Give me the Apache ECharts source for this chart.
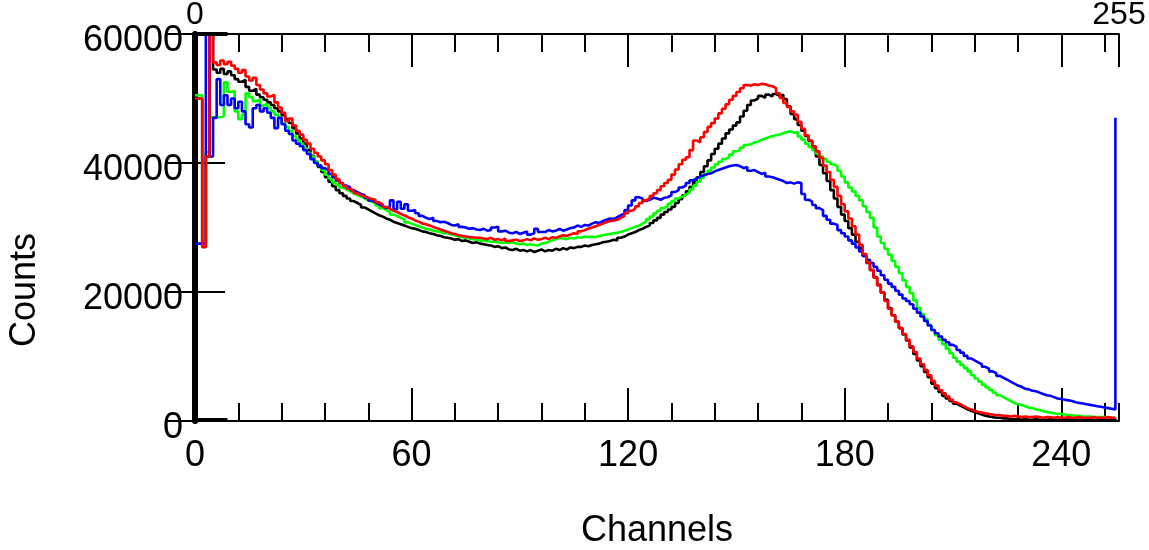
<!DOCTYPE html>
<html>
<head>
<meta charset="utf-8">
<script src="https://cdn.jsdelivr.net/npm/echarts@6/dist/echarts.min.js"></script>
<style>
html,body{margin:0;padding:0;background:#fff;}
.mainChart{width:1149px;height:550px;}
</style>
</head>
<body>
<div class="mainChart"></div>
<script>
// counts per channel, in thousands (channel 0..255)
var blackK = [
50.0,50.0,27.0,41.0,62.0,54.5,54.0,54.6,53.8,54.2,
53.6,53.0,52.6,52.9,51.8,51.2,51.5,50.6,50.2,49.8,
49.4,49.0,48.5,48.0,47.4,46.8,46.2,45.4,44.6,43.8,
43.0,42.0,41.1,40.2,39.4,38.6,37.8,37.1,36.4,35.8,
35.3,34.9,34.5,34.1,33.8,33.5,33.1,32.8,32.5,32.2,
31.9,31.7,31.4,31.2,30.9,30.7,30.5,30.3,30.1,29.9,
29.8,29.6,29.4,29.3,29.1,29.0,28.8,28.7,28.5,28.4,
28.3,28.1,28.2,27.9,28.0,27.8,27.6,27.7,27.5,27.4,
27.3,27.2,27.0,27.1,26.8,26.9,26.6,26.5,26.7,26.4,
26.5,26.3,26.5,26.2,26.4,26.6,26.3,26.5,26.4,26.7,
26.5,26.8,26.6,26.9,26.8,27.0,27.0,27.2,27.1,27.3,
27.4,27.5,27.7,27.8,27.9,28.1,28.0,28.4,28.6,28.9,
29.1,29.3,29.6,29.8,30.1,30.3,30.7,31.1,31.5,32.0,
32.4,32.8,33.2,33.8,34.4,35.0,35.6,36.3,37.0,37.8,
38.6,39.5,40.4,41.4,42.2,43.0,43.8,44.6,45.2,45.8,
46.3,47.2,48.1,49.0,49.7,50.0,50.4,50.1,50.6,50.3,
50.7,50.4,50.6,49.9,48.8,47.6,46.8,45.9,45.0,44.2,
43.4,42.2,41.0,39.7,38.4,37.2,35.8,34.5,33.2,32.0,
31.0,29.9,28.9,27.8,26.8,25.6,24.5,23.4,22.3,21.1,
19.9,18.8,17.5,16.4,15.4,14.4,13.4,12.5,11.4,10.4,
9.4,8.5,7.6,6.8,5.8,5.1,4.5,3.9,3.5,3.1,
2.7,2.4,2.1,1.8,1.6,1.4,1.2,1.0,0.8,0.7,
0.6,0.5,0.5,0.4,0.4,0.3,0.3,0.3,0.2,0.3,
0.2,0.2,0.3,0.2,0.2,0.2,0.3,0.2,0.2,0.2,
0.2,0.3,0.2,0.2,0.2,0.3,0.2,0.2,0.2,0.2,
0.2,0.3,0.2,0.2,0.2,0.4
];
var redK = [
50.0,50.0,27.0,41.0,62.0,55.6,55.2,55.9,55.3,55.7,
55.1,54.6,54.0,54.4,53.4,52.8,53.2,52.1,51.4,50.8,
50.3,50.6,49.4,48.6,47.8,46.5,46.9,45.8,45.0,44.4,
43.6,43.0,42.2,41.6,41.0,40.4,39.8,38.9,38.2,37.5,
36.9,36.4,36.0,35.7,35.3,35.0,34.8,34.6,34.4,34.3,
33.9,33.6,33.2,32.9,32.6,32.4,32.1,31.9,31.6,31.4,
31.1,30.9,30.6,30.5,30.3,30.1,29.9,29.7,29.5,29.3,
29.1,29.0,28.8,28.7,28.6,28.5,28.5,28.4,28.4,28.3,
28.2,28.4,28.1,28.2,28.0,28.3,27.9,28.0,28.1,27.9,
28.0,28.2,28.0,28.3,28.1,28.2,28.4,28.2,28.5,28.4,
28.6,28.8,28.7,28.9,29.1,29.0,29.4,29.6,29.8,30.0,
30.2,30.4,30.6,30.8,31.0,31.1,31.2,31.5,31.8,32.2,
32.6,32.9,33.3,33.8,34.2,34.5,34.9,35.3,35.8,36.4,
36.9,37.4,38.2,39.0,39.8,40.5,40.9,42.0,43.5,43.2,
44.0,44.8,45.6,46.2,46.9,47.7,48.4,49.1,49.8,50.4,
51.0,51.6,52.1,52.0,52.2,52.1,52.3,52.2,52.0,51.9,
51.6,50.8,50.1,49.3,48.7,48.0,47.5,46.4,45.3,44.3,
43.5,42.6,41.8,40.8,39.6,38.6,37.4,36.3,34.9,33.6,
32.5,31.4,30.2,28.9,27.3,25.9,24.6,23.4,22.2,21.0,
19.9,18.6,17.4,16.4,15.4,14.4,13.5,12.6,11.6,10.7,
9.7,8.8,7.9,7.1,6.2,5.5,4.8,4.3,3.8,3.3,
2.9,2.6,2.3,2.0,1.8,1.6,1.4,1.3,1.2,1.1,
1.0,0.9,0.9,0.8,0.8,0.7,0.8,0.7,0.6,0.7,
0.6,0.6,0.7,0.6,0.5,0.6,0.6,0.5,0.6,0.5,
0.5,0.6,0.5,0.5,0.6,0.5,0.5,0.5,0.6,0.5,
0.5,0.5,0.6,0.5,0.5,0.6
];
var greenK = [
50.5,50.5,27.3,41.7,47.1,47.1,47.1,47.3,52.5,51.0,
51.2,48.0,46.8,47.5,50.8,50.2,49.6,49.8,48.9,49.2,
48.6,48.0,47.5,47.0,46.2,45.6,45.0,44.2,43.6,43.0,
42.3,41.6,41.0,40.3,39.6,38.9,38.2,37.6,37.0,36.6,
36.2,35.9,35.6,35.3,35.0,34.8,34.5,34.2,34.0,33.8,
33.4,33.0,32.7,32.4,32.0,31.8,31.5,31.2,30.8,30.6,
30.4,30.2,30.0,29.8,29.7,29.5,29.4,29.3,29.1,29.1,
28.9,28.8,28.6,28.5,28.4,28.3,28.2,28.1,28.0,27.9,
27.9,27.8,27.8,27.7,27.6,27.7,27.6,27.7,27.5,27.4,
27.5,27.3,27.4,27.3,27.2,27.5,27.6,27.8,28.0,28.2,
28.4,28.3,28.2,28.4,28.3,28.5,28.4,28.6,28.5,28.6,
28.5,28.7,28.8,28.9,29.0,29.1,29.2,29.3,29.5,29.7,
29.9,30.1,30.3,30.6,30.9,31.3,31.7,32.2,32.6,33.0,
33.3,33.7,34.1,34.5,34.8,35.1,35.4,35.9,36.5,37.1,
37.7,38.3,38.8,39.3,39.8,40.2,40.6,40.9,41.3,41.8,
42.0,42.4,42.8,42.9,43.2,43.3,43.6,43.8,44.0,44.2,
44.3,44.4,44.6,44.8,44.9,44.7,44.8,44.1,43.6,43.0,
42.5,42.0,41.5,41.0,40.6,40.2,39.8,39.5,38.8,37.9,
37.0,36.2,35.6,34.9,34.2,33.3,32.4,31.5,30.0,28.6,
27.6,26.7,25.8,24.8,23.9,22.9,21.8,20.8,19.8,18.7,
17.5,16.6,15.8,14.9,14.1,13.3,12.6,11.9,11.2,10.5,
9.8,9.2,8.7,8.2,7.7,7.1,6.6,6.1,5.6,5.2,
4.8,4.4,4.0,3.7,3.4,3.1,2.8,2.6,2.5,2.3,
2.1,2.0,1.8,1.7,1.5,1.4,1.3,1.2,1.1,1.1,
1.0,0.9,0.9,0.8,0.8,0.7,0.7,0.7,0.6,0.6,
0.6,0.6,0.5,0.5,0.5,0.6
];
var blueK = [
27.5,27.5,27.5,62.0,41.0,47.0,53.0,49.0,50.5,49.0,
50.0,48.5,49.5,48.0,46.0,45.5,48.5,49.0,48.0,48.5,
47.8,47.0,45.4,47.0,46.0,45.0,44.5,43.5,43.0,42.6,
42.0,41.4,40.6,40.0,39.6,39.2,38.9,38.3,37.8,37.3,
36.9,36.5,36.2,35.8,35.5,35.2,35.0,34.6,34.2,33.9,
33.6,33.3,33.0,33.2,34.2,32.8,34.0,32.9,33.6,32.6,
32.7,32.2,31.8,31.5,31.3,31.5,31.0,30.8,30.9,30.7,
30.4,30.3,30.5,30.1,30.0,29.8,29.9,29.7,29.6,29.8,
29.5,29.6,30.0,30.1,29.4,29.5,29.2,29.1,29.3,29.0,
29.2,29.4,28.9,29.1,29.8,29.3,29.3,29.6,29.4,29.5,
29.8,29.5,29.7,29.9,30.0,30.3,30.1,30.4,30.3,30.6,
30.8,30.7,31.0,31.2,31.4,31.3,31.6,31.9,32.2,32.7,
33.4,34.2,34.7,34.5,34.1,34.3,34.6,34.5,34.3,34.6,
34.7,35.0,35.5,35.8,36.2,36.5,36.9,37.3,37.6,37.9,
38.1,38.3,38.4,38.7,38.9,39.1,39.3,39.5,39.6,39.7,
39.5,39.2,39.4,38.8,38.9,38.6,38.3,38.5,37.9,37.8,
37.6,37.4,37.2,36.9,37.0,36.8,37.0,36.9,35.2,34.3,
34.0,33.5,33.0,32.7,31.8,31.2,30.6,30.4,29.6,29.1,
28.6,28.0,27.5,26.9,26.3,25.6,25.0,24.5,23.9,23.3,
22.6,21.9,21.3,20.8,20.2,19.6,19.0,18.6,18.1,17.4,
16.8,16.2,15.5,14.8,14.1,13.6,13.1,12.6,12.2,11.8,
11.5,11.0,10.6,10.1,9.7,9.4,9.1,8.8,8.4,8.1,
7.7,7.4,7.0,6.7,6.4,6.1,5.8,5.5,5.3,5.0,
4.9,4.7,4.6,4.4,4.2,4.0,3.9,3.7,3.5,3.4,
3.3,3.2,3.1,2.9,2.8,2.7,2.6,2.5,2.4,2.3,
2.2,2.1,2.0,1.9,1.8,47.0
];
// region marker drawn at channels 0..9 (top and bottom edge)
var markerChannels = [0, 9];
var yTicks = [0, 20000, 40000, 60000];

var mainChart = echarts.init(document.querySelector(".mainChart"));
var FONT = "Liberation Sans";

function toPoints(arr){
    return arr.map(function(v, i){ return [i, v * 1000]; });
}
function histSeries(name, arr, color){
    return {
        name: name,
        type: 'line',
        step: 'end',
        showSymbol: false,
        symbol: 'none',
        data: toPoints(arr),
        lineStyle: { color: color, width: 2.6 },
        itemStyle: { color: color },
        xAxisIndex: 0,
        yAxisIndex: 0
    };
}
var blackLine = { color: '#000', width: 2 };

var option = {
    animation: false,
    backgroundColor: '#fff',
    textStyle: { fontFamily: FONT },
    grid: { left: 195, right: 30, top: 34, bottom: 129, containLabel: false, outerBoundsMode: 'none' },
    xAxis: [
        {
            type: 'value', position: 'bottom', min: 0, max: 256, interval: 60,
            axisLine: { show: true, lineStyle: blackLine },
            axisTick: { show: true, inside: true, length: 33, lineStyle: blackLine },
            axisLabel: { fontSize: 36, color: '#000', margin: 17, fontFamily: FONT, showMaxLabel: false },
            splitLine: { show: false },
            name: 'Channels', nameLocation: 'middle', nameGap: 92,
            nameTextStyle: { fontSize: 36, color: '#000', fontFamily: FONT }
        },
        {
            type: 'value', position: 'bottom', min: 0, max: 256, interval: 12,
            axisLine: { show: false },
            axisTick: { show: true, inside: true, length: 18, lineStyle: blackLine },
            axisLabel: { show: false }, splitLine: { show: false }
        },
        {
            type: 'value', position: 'top', min: 0, max: 256, interval: 60,
            axisLine: { show: true, lineStyle: blackLine },
            axisTick: { show: true, inside: true, length: 33, lineStyle: blackLine },
            axisLabel: {
                fontSize: 32, color: '#000', margin: 3, fontFamily: FONT,
                formatter: function(v){ return v === 0 ? '0' : (v === 256 ? '255' : ''); }
            },
            splitLine: { show: false }
        },
        {
            type: 'value', position: 'top', min: 0, max: 256, interval: 12,
            axisLine: { show: false },
            axisTick: { show: true, inside: true, length: 18, lineStyle: blackLine },
            axisLabel: { show: false }, splitLine: { show: false }
        }
    ],
    yAxis: [
        {
            type: 'value', position: 'left', min: yTicks[0], max: yTicks[3], interval: 20000,
            axisLine: { show: true, lineStyle: { color: '#000', width: 5 } },
            axisTick: { show: true, inside: true, length: 30, lineStyle: blackLine },
            axisLabel: {
                color: '#000', margin: 12,
                formatter: function(v){ return '{n|' + v + '}'; },
                rich: { n: { fontSize: 36, fontFamily: FONT, color: '#000', padding: [14, 0, 0, 0] } }
            },
            splitLine: { show: false }
        },
        {
            type: 'value', position: 'right', min: yTicks[0], max: yTicks[3], interval: 20000,
            axisLine: { show: true, lineStyle: { color: '#000', width: 6 } },
            axisTick: { show: true, inside: true, length: 30, lineStyle: blackLine },
            axisLabel: { show: false },
            splitLine: { show: false }
        }
    ],
    graphic: [
        {
            type: 'text', x: 25, y: 290, rotation: Math.PI / 2,
            style: { text: 'Counts', font: '36px "Liberation Sans"', fill: '#000', align: 'center', verticalAlign: 'middle' }
        }
    ],
    series: [
        histSeries('black', blackK, '#000000'),
        histSeries('green', greenK, '#00ff00'),
        histSeries('blue', blueK, '#0000ff'),
        histSeries('red', redK, '#ff0000'),
        {
            name: 'markerTop', type: 'line', symbol: 'none', clip: false,
            data: markerChannels.map(function(c){ return [c, 60000]; }),
            lineStyle: { color: '#000', width: 4 }
        },
        {
            name: 'markerBottom', type: 'line', symbol: 'none', clip: false,
            data: markerChannels.map(function(c){ return [c, 250]; }),
            lineStyle: { color: '#000', width: 3 }
        }
    ]
};
mainChart.setOption(option);
</script>
</body>
</html>
